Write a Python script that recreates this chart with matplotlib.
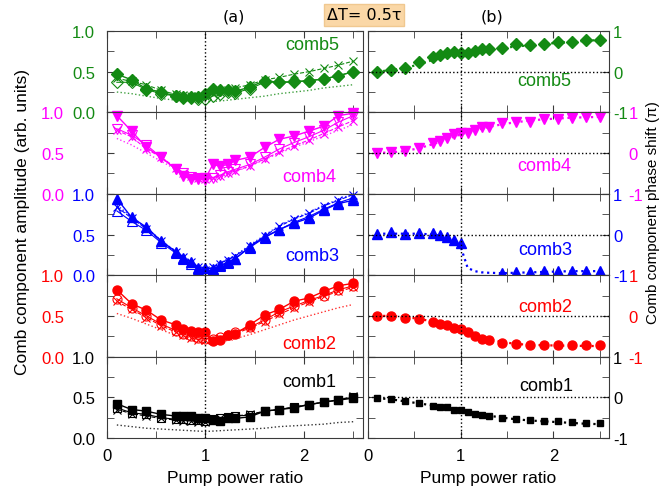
import matplotlib.pyplot as plt
import numpy as np
from matplotlib.ticker import FixedFormatter, FixedLocator, MultipleLocator

plt.rcParams["font.family"] = ["Liberation Sans", "DejaVu Sans"]

# pump power ratio (same grid for every comb component)
pump_ratio = [0.1, 0.25, 0.4, 0.55, 0.7, 0.775, 0.85, 0.925, 1.0, 1.075, 1.15,
              1.225, 1.3, 1.45, 1.6, 1.75, 1.9, 2.05, 2.2, 2.35, 2.5]

comb_names = ["comb5", "comb4", "comb3", "comb2", "comb1"]
comb_colors = ["#138a13", "#ff00ff", "#0000ff", "#ff0000", "#000000"]
comb_markers = ["D", "v", "^", "o", "s"]

# (a) amplitude: filled markers, open markers, crosses, dotted curve
amp5_filled = [0.47, 0.40, 0.29, 0.25, 0.20, 0.19, 0.19, 0.19, 0.23, 0.29, 0.28,
               0.27, 0.26, 0.31, 0.39, 0.37, 0.38, 0.39, 0.41, 0.45, 0.50]
amp5_open = [0.37, 0.37, 0.28, 0.23, 0.20, 0.18, 0.18, 0.17, 0.16, 0.20, 0.23,
             0.25, 0.24, 0.29, 0.37, 0.37, 0.37, 0.39, 0.41, 0.45, 0.50]
amp5_cross = [0.42, 0.38, 0.34, 0.27, 0.22, 0.21, 0.20, 0.20, 0.20, 0.22, 0.25,
              0.28, 0.30, 0.34, 0.40, 0.43, 0.47, 0.50, 0.54, 0.58, 0.63]
amp5_dotted = [0.25, 0.23, 0.20, 0.17, 0.15, 0.145, 0.14, 0.135, 0.13, 0.135, 0.14,
               0.15, 0.16, 0.18, 0.20, 0.23, 0.25, 0.27, 0.30, 0.32, 0.34]

amp4_filled = [0.96, 0.77, 0.57, 0.45, 0.30, 0.22, 0.18, 0.18, 0.19, 0.36, 0.34,
               0.36, 0.41, 0.45, 0.57, 0.67, 0.71, 0.77, 0.83, 0.96, 0.99]
amp4_open = [0.80, 0.72, 0.60, 0.45, 0.30, 0.25, 0.21, 0.19, 0.17, 0.20, 0.23,
             0.27, 0.30, 0.36, 0.45, 0.55, 0.63, 0.70, 0.78, 0.88, 0.96]
amp4_cross = [0.78, 0.70, 0.55, 0.45, 0.32, 0.26, 0.22, 0.20, 0.18, 0.20, 0.22,
              0.25, 0.28, 0.34, 0.43, 0.51, 0.59, 0.66, 0.74, 0.82, 0.90]
amp4_dotted = [0.68, 0.60, 0.50, 0.40, 0.30, 0.25, 0.21, 0.18, 0.16, 0.18, 0.21,
               0.24, 0.27, 0.34, 0.42, 0.50, 0.57, 0.64, 0.71, 0.78, 0.85]

amp3_filled = [0.94, 0.71, 0.59, 0.42, 0.29, 0.21, 0.16, 0.09, 0.09, 0.08, 0.12,
               0.16, 0.20, 0.35, 0.47, 0.56, 0.64, 0.70, 0.80, 0.88, 0.92]
amp3_open = [0.79, 0.66, 0.55, 0.40, 0.27, 0.20, 0.14, 0.08, 0.04, 0.07, 0.11,
             0.15, 0.20, 0.34, 0.46, 0.56, 0.65, 0.72, 0.81, 0.89, 0.95]
amp3_cross = [0.84, 0.70, 0.57, 0.42, 0.28, 0.22, 0.16, 0.10, 0.06, 0.10, 0.14,
              0.19, 0.23, 0.36, 0.48, 0.60, 0.69, 0.76, 0.85, 0.92, 0.99]
amp3_dotted = [0.86, 0.72, 0.58, 0.43, 0.29, 0.22, 0.16, 0.10, 0.06, 0.10, 0.15,
               0.20, 0.24, 0.37, 0.49, 0.61, 0.70, 0.77, 0.86, 0.93, 1.00]

amp2_filled = [0.82, 0.65, 0.57, 0.45, 0.39, 0.345, 0.32, 0.30, 0.30, 0.19, 0.21,
               0.26, 0.28, 0.39, 0.51, 0.58, 0.68, 0.72, 0.80, 0.87, 0.90]
amp2_open = [0.71, 0.60, 0.50, 0.40, 0.32, 0.28, 0.25, 0.23, 0.22, 0.22, 0.24,
             0.27, 0.30, 0.36, 0.45, 0.55, 0.62, 0.69, 0.75, 0.82, 0.87]
amp2_cross = [0.68, 0.58, 0.48, 0.38, 0.30, 0.26, 0.23, 0.21, 0.20, 0.21, 0.23,
              0.25, 0.28, 0.35, 0.43, 0.52, 0.60, 0.67, 0.74, 0.80, 0.85]
amp2_dotted = [0.53, 0.47, 0.40, 0.33, 0.26, 0.23, 0.20, 0.18, 0.17, 0.17, 0.18,
               0.20, 0.22, 0.27, 0.33, 0.39, 0.45, 0.50, 0.55, 0.60, 0.64]

amp1_filled = [0.42, 0.35, 0.33, 0.29, 0.27, 0.27, 0.27, 0.25, 0.25, 0.22, 0.21,
               0.24, 0.24, 0.26, 0.33, 0.35, 0.37, 0.41, 0.44, 0.465, 0.49]
amp1_open = [0.37, 0.31, 0.29, 0.25, 0.23, 0.23, 0.22, 0.22, 0.21, 0.23, 0.24,
             0.26, 0.27, 0.28, 0.33, 0.35, 0.38, 0.41, 0.44, 0.47, 0.50]
amp1_cross = [0.35, 0.30, 0.27, 0.24, 0.22, 0.21, 0.21, 0.20, 0.20, 0.22, 0.24,
              0.26, 0.27, 0.29, 0.33, 0.35, 0.38, 0.41, 0.44, 0.47, 0.51]
amp1_dotted = [0.16, 0.14, 0.12, 0.11, 0.10, 0.095, 0.09, 0.085, 0.08, 0.085, 0.09,
               0.095, 0.10, 0.11, 0.12, 0.14, 0.15, 0.16, 0.17, 0.19, 0.20]

# (b) phase shift in units of pi: markers and dotted model curve
phase5 = [0.0, 0.05, 0.09, 0.23, 0.36, 0.42, 0.46, 0.48, 0.47, 0.46, 0.52,
          0.55, 0.55, 0.59, 0.675, 0.65, 0.69, 0.73, 0.73, 0.78, 0.78]
phase5_fit = [0.0, 0.04, 0.09, 0.18, 0.29, 0.34, 0.39, 0.43, 0.46, 0.48, 0.50,
              0.52, 0.54, 0.58, 0.62, 0.65, 0.68, 0.71, 0.73, 0.76, 0.78]
phase4 = [0.0, 0.02, 0.04, 0.12, 0.24, 0.30, 0.37, 0.46, 0.49, 0.50, 0.57,
          0.63, 0.65, 0.75, 0.77, 0.76, 0.83, 0.85, 0.87, 0.89, 0.89]
phase4_fit = [0.0, 0.02, 0.05, 0.12, 0.22, 0.28, 0.34, 0.40, 0.46, 0.51, 0.56,
              0.60, 0.64, 0.71, 0.76, 0.80, 0.83, 0.85, 0.87, 0.88, 0.89]
phase3 = [0.02, 0.05, 0.02, 0.04, 0.04, 0.0, -0.06, -0.14, -0.22, np.nan, np.nan,
          np.nan, np.nan, -0.94, -0.93, -0.92, -0.90, -0.90, -0.89, -0.89, -0.90]
phase3_fit = [0.02, 0.02, 0.02, 0.02, 0.0, -0.03, -0.07, -0.13, -0.30, -0.82, -0.90,
              -0.93, -0.94, -0.95, -0.94, -0.93, -0.92, -0.91, -0.90, -0.90, -0.90]
phase2 = [0.0, 0.0, -0.04, -0.08, -0.15, -0.20, -0.22, -0.29, -0.33, -0.39, -0.50,
          -0.57, -0.60, -0.67, -0.69, -0.71, -0.71, -0.71, -0.71, -0.72, -0.72]
phase2_fit = [0.0, 0.0, -0.03, -0.07, -0.14, -0.18, -0.23, -0.28, -0.34, -0.40, -0.46,
              -0.52, -0.57, -0.64, -0.69, -0.71, -0.72, -0.73, -0.73, -0.74, -0.74]
phase1 = [-0.02, -0.04, -0.10, -0.15, -0.21, -0.23, -0.25, -0.30, -0.32, -0.36, -0.41,
          -0.44, -0.47, -0.51, -0.53, -0.57, -0.58, -0.58, -0.61, -0.64, -0.64]
phase1_fit = [-0.02, -0.05, -0.10, -0.15, -0.20, -0.23, -0.26, -0.29, -0.32, -0.35, -0.39,
              -0.42, -0.45, -0.50, -0.54, -0.57, -0.59, -0.61, -0.63, -0.65, -0.66]

amp_filled = [amp5_filled, amp4_filled, amp3_filled, amp2_filled, amp1_filled]
amp_open = [amp5_open, amp4_open, amp3_open, amp2_open, amp1_open]
amp_cross = [amp5_cross, amp4_cross, amp3_cross, amp2_cross, amp1_cross]
amp_dotted = [amp5_dotted, amp4_dotted, amp3_dotted, amp2_dotted, amp1_dotted]
phase = [phase5, phase4, phase3, phase2, phase1]
phase_fit = [phase5_fit, phase4_fit, phase3_fit, phase2_fit, phase1_fit]

x_ticks = [0, 1, 2]
x_tick_labels = ["0", "1", "2"]
amp_ticks = [0.0, 0.5, 1.0]
amp_tick_labels = ["0.0", "0.5", "1.0"]
phase_ticks = [-1, 0, 1]
phase_tick_labels = ["-1", "0", "1"]

# -----------------------------------------------------------------------------
fig = plt.figure(figsize=(6.61, 4.89), dpi=100)

W, H = 661, 489
top_px, bottom_px = 32, 439
panel_h = (bottom_px - top_px) / 5
left_box = (107, 363)
right_box = (368, 609)
frame_color = "#3a3a3a"

# label positions inside each panel (axes fraction)
left_text_pos = [(0.80, 0.84), (0.79, 0.21), (0.80, 0.24), (0.79, 0.165), (0.79, 0.69)]
right_text_pos = [(0.73, 0.39), (0.73, 0.35), (0.735, 0.31), (0.735, 0.61), (0.74, 0.64)]


def style_x(axis, last):
    axis.set_xlim(0, 2.6)
    axis.xaxis.set_major_locator(FixedLocator(x_ticks))
    axis.xaxis.set_major_formatter(FixedFormatter(x_tick_labels))
    axis.xaxis.set_minor_locator(MultipleLocator(0.5))
    axis.tick_params(axis="x", which="both", direction="in", top=True, bottom=True,
                     color=frame_color, length=5, labelsize=12, pad=7, labelbottom=last)
    if last:
        axis.set_xlabel("Pump power ratio", fontsize=12.5, labelpad=5)
    for sp in axis.spines.values():
        sp.set_color(frame_color)


for i in range(5):
    y0 = 1 - (top_px + (i + 1) * panel_h) / H
    h = panel_h / H
    color = comb_colors[i]
    marker = comb_markers[i]
    ms = 6.5 if marker != "s" else 5.5

    # ---------------- (a) amplitude
    ax = fig.add_axes([left_box[0] / W, y0, (left_box[1] - left_box[0]) / W, h])
    ax.plot(pump_ratio, amp_dotted[i], ":", color=color, linewidth=1, alpha=0.8)
    ax.plot(pump_ratio, amp_cross[i], "--", color=color, linewidth=0.8,
            marker="x", markersize=6, markeredgewidth=0.8, clip_on=False)
    ax.plot(pump_ratio, amp_open[i], "-", color=color, linewidth=0.8,
            marker=marker, markersize=ms, markerfacecolor="none",
            markeredgewidth=0.8, clip_on=False)
    ax.plot(pump_ratio, amp_filled[i], "-", color=color, linewidth=1,
            marker=marker, markersize=ms, clip_on=False)
    ax.axvline(1.0, color="black", linestyle=":", linewidth=1)
    ax.set_ylim(0, 1)
    ax.yaxis.set_major_locator(FixedLocator(amp_ticks))
    ax.yaxis.set_major_formatter(FixedFormatter(amp_tick_labels))
    ax.yaxis.set_minor_locator(MultipleLocator(0.25))
    ax.text(*left_text_pos[i], comb_names[i], color=color, fontsize=13,
            ha="center", va="center", transform=ax.transAxes)
    pad = 8.5 if i % 2 == 0 else 31
    ax.tick_params(axis="y", which="both", direction="in", left=True, right=True,
                   labelcolor=color, labelsize=12, pad=pad, color=frame_color, length=5)
    style_x(ax, i == 4)

    # ---------------- (b) phase shift
    bx = fig.add_axes([right_box[0] / W, y0, (right_box[1] - right_box[0]) / W, h])
    bx.plot(pump_ratio, phase_fit[i], ":", color=color, linewidth=1.6)
    bx.plot(pump_ratio, phase[i], linestyle="none", color=color, marker=marker,
            markersize=ms if i < 4 else 5, clip_on=False)
    bx.axvline(1.0, color="black", linestyle=":", linewidth=1)
    bx.axhline(0.0, color="black", linestyle=":", linewidth=1)
    bx.set_ylim(-1, 1)
    bx.yaxis.set_major_locator(FixedLocator(phase_ticks))
    bx.yaxis.set_major_formatter(FixedFormatter(phase_tick_labels))
    bx.yaxis.set_minor_locator(MultipleLocator(0.5))
    bx.yaxis.tick_right()
    bx.text(*right_text_pos[i], comb_names[i], color=color, fontsize=13,
            ha="center", va="center", transform=bx.transAxes)
    pad = 3 if i % 2 == 0 else 14
    bx.tick_params(axis="y", which="both", direction="in", left=True, right=True,
                   labelleft=False, labelright=True, labelcolor=color, labelsize=12,
                   pad=pad, color=frame_color, length=5)
    style_x(bx, i == 4)

fig.text(23 / W, 1 - 222 / H, "Comb component amplitude (arb. units)", rotation=90,
         ha="center", va="center", fontsize=12.5)
fig.text(652.5 / W, 1 - 213 / H, "Comb component phase shift (\u03c0)", rotation=90,
         ha="center", va="center", fontsize=11)

fig.text(234 / W, 1 - 17 / H, "(a)", ha="center", va="center", fontsize=11.5,
         family="DejaVu Sans")
fig.text(492 / W, 1 - 17 / H, "(b)", ha="center", va="center", fontsize=11.5,
         family="DejaVu Sans")
fig.text(364 / W, 1 - 16 / H, "\u0394T= 0.5\u03c4", ha="center", va="center",
         fontsize=11.5, family="DejaVu Sans",
         bbox=dict(boxstyle="square,pad=0.2", facecolor="#fad7a6", edgecolor="#f0c890"))

fig.savefig("out.png", dpi=100)
